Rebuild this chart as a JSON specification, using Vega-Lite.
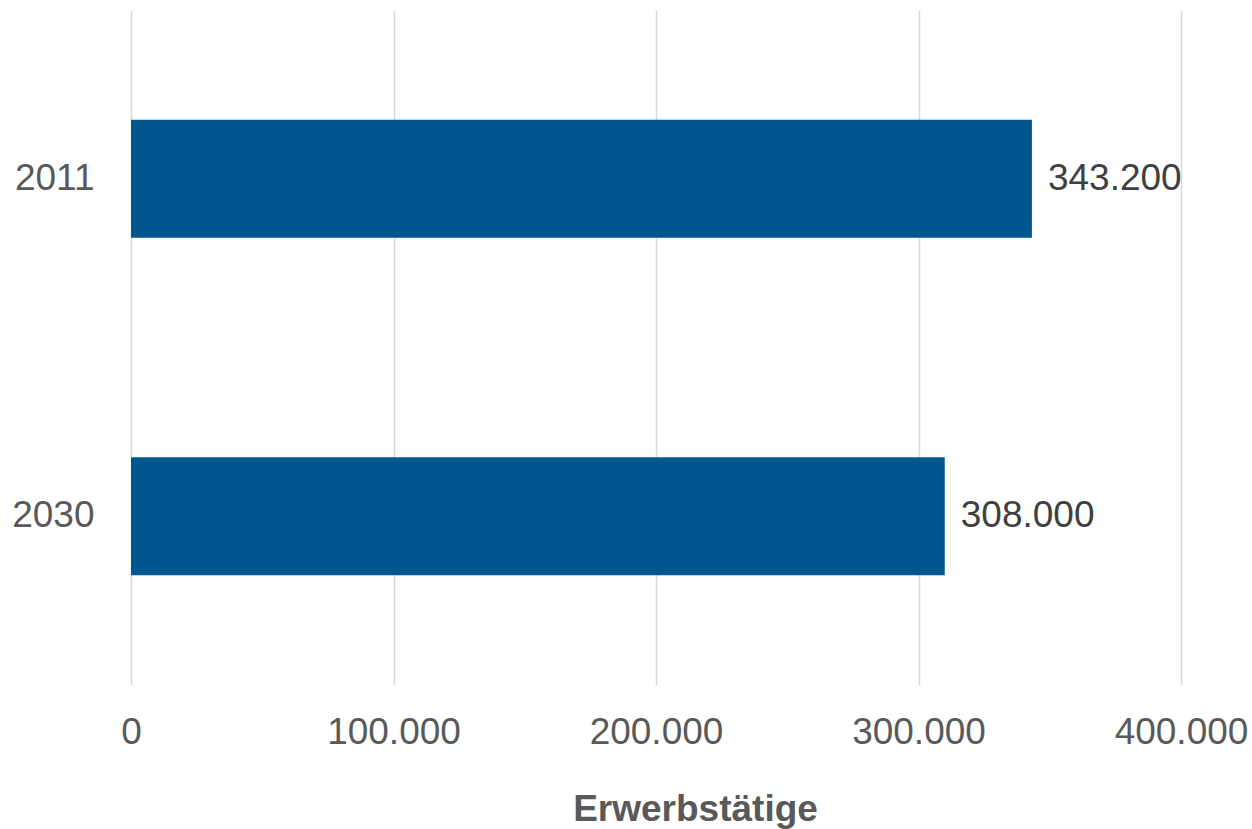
{
  "$schema": "https://vega.github.io/schema/vega-lite/v6.json",
  "autosize": {"type": "none"},
  "padding": {"left": 131, "top": 10, "right": 71, "bottom": 144},
  "width": 1050,
  "height": 675,
  "background": "white",
  "config": {
    "view": {"stroke": null},
    "font": "Liberation Sans",
    "locale": {"number": {"decimal": ",", "thousands": ".", "grouping": [3], "currency": ["", " €"]}}
  },
  "data": {
    "values": [
      {"Jahr": "2011", "Erwerbstätige": 343200, "Beschriftung": "343.200"},
      {"Jahr": "2030", "Erwerbstätige": 310000, "Beschriftung": "308.000"}
    ]
  },
  "encoding": {
    "y": {
      "field": "Jahr",
      "type": "nominal",
      "sort": ["2011", "2030"],
      "scale": {"paddingInner": 0.65, "paddingOuter": 0.325},
      "axis": {
        "title": null,
        "domain": false,
        "ticks": false,
        "grid": false,
        "labelFontSize": 37,
        "labelColor": "#595959",
        "labelPadding": 37,
        "labelBaseline": "middle"
      }
    },
    "x": {
      "field": "Erwerbstätige",
      "type": "quantitative",
      "scale": {"domain": [0, 400000], "nice": false},
      "axis": {
        "values": [0, 100000, 200000, 300000, 400000],
        "format": ",d",
        "domain": false,
        "ticks": false,
        "grid": true,
        "gridColor": "#d9d9d9",
        "gridWidth": 1.5,
        "labelFontSize": 37,
        "labelColor": "#595959",
        "labelPadding": 29,
        "labelFlush": false,
        "title": "Erwerbstätige",
        "titleFontSize": 37,
        "titleFontWeight": "bold",
        "titleColor": "#595959",
        "titleX": 564,
        "titleY": 135,
        "titleAlign": "center",
        "titleBaseline": "alphabetic"
      }
    }
  },
  "layer": [
    {"mark": {"type": "bar", "color": "#00578f"}},
    {
      "mark": {"type": "text", "align": "left", "baseline": "middle", "dx": 16, "fontSize": 37, "color": "#404040"},
      "encoding": {"text": {"field": "Beschriftung", "type": "nominal"}}
    }
  ]
}
